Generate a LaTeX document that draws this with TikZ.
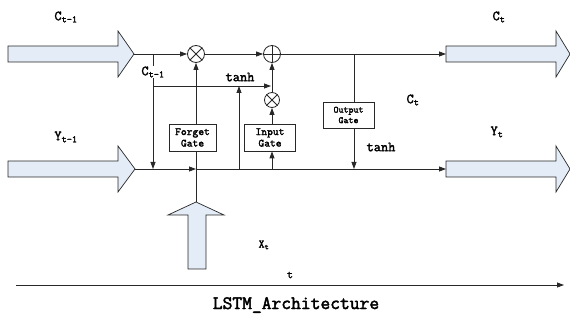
\documentclass[tikz,border=0pt]{standalone}
\usepackage{fontspec}
\newfontfamily\lblfont[FakeBold=2.2]{Latin Modern Mono}
\usetikzlibrary{arrows.meta}
\definecolor{bigfill}{RGB}{228,236,247}
\definecolor{linec}{RGB}{40,40,40}
\begin{document}
\begin{tikzpicture}[x=1pt,y=-1pt,
  conn/.style={draw=linec,line width=0.8pt},
  arr/.style={conn,-{Triangle[length=7pt,width=5pt]}},
  bigarrow/.style={draw=linec,line width=0.7pt,fill=bigfill,line join=miter},
  op/.style={circle,draw=linec,line width=0.8pt,minimum size=17pt,inner sep=0pt},
  gatebox/.style={draw=linec,line width=0.8pt,fill=white,align=center,inner sep=0pt,font=\lblfont\fontsize{11}{11.5}\selectfont},
  lbl/.style={font=\lblfont\fontsize{14}{14}\selectfont,inner sep=0pt},
  slbl/.style={font=\lblfont\fontsize{11.5}{11.5}\selectfont,inner sep=0pt}
]
\useasboundingbox (0,0) rectangle (570,320);

% big arrows
\draw[bigarrow] (8,46) -- (118,46) -- (118,31) -- (134,54) -- (118,77) -- (118,62) -- (8,62) -- cycle;
\coordinate (cin) at (134,54);
\draw[bigarrow] (8,161) -- (118,161) -- (118,146) -- (135,169) -- (118,192) -- (118,177) -- (8,177) -- cycle;
\coordinate (yin) at (135,169);
\draw[bigarrow] (446,46) -- (556,46) -- (556,31) -- (570,54) -- (556,77) -- (556,62) -- (446,62) -- cycle;
\coordinate (cout) at (446,54);
\draw[bigarrow] (446,161) -- (556,161) -- (556,146) -- (570,169) -- (556,192) -- (556,177) -- (446,177) -- cycle;
\coordinate (yout) at (446,169);
\draw[bigarrow] (188,269) -- (188,215) -- (168,215) -- (196,202) -- (224,215) -- (206,215) -- (206,269) -- cycle;
\coordinate (xin) at (196,202);

% operators
\node[op] (m1) at (196,54) {};
\draw[linec,line width=0.8pt] (m1.north west) -- (m1.south east) (m1.north east) -- (m1.south west);
\node[op] (pl) at (272,54) {};
\draw[linec,line width=0.8pt] (pl.north) -- (pl.south) (pl.west) -- (pl.east);
\node[op,minimum size=15pt] (m2) at (272,100) {};
\draw[linec,line width=0.8pt] (m2.north west) -- (m2.south east) (m2.north east) -- (m2.south west);

% junction coordinates
\coordinate (j1) at (153,54);
\coordinate (j1b) at (153,86);
\coordinate (j1y) at (153,169);
\coordinate (th) at (239,86);
\coordinate (thy) at (239,169);
\coordinate (inh) at (271,86);
\coordinate (xy) at (196,169);
\coordinate (igy) at (272,169);
\coordinate (oj) at (354,54);
\coordinate (oy) at (354,169);

% connectors
\draw[conn] (cin) -- (j1);
\draw[arr] (j1) -- (m1.west);
\draw[arr] (m1.east) -- (pl.west);
\draw[arr] (pl.east) -- (cout);
\draw[arr] (j1) -- (j1y);
\draw[arr] (j1b) -- (inh);
\draw[arr] (thy) -- (th);
\draw[arr] (yin) -- (xy);
\draw[arr] (xy) -- (yout);
\draw[arr] (xin) -- (m1.south);

% gates
\node[gatebox,minimum width=47pt,minimum height=27pt] (fg) at (192.5,137.5) {Forget\\Gate};
\node[gatebox,minimum width=51pt,minimum height=27pt] (ig) at (270,137.5) {Input\\Gate};
\node[gatebox,minimum width=51pt,minimum height=26pt,font=\lblfont\fontsize{9.5}{10.5}\selectfont] (og) at (348.5,115) {Output\\Gate};

\draw[arr] (igy) -- (ig.south -| igy);
\draw[arr] (ig.north -| igy) -- (m2.south);
\draw[arr] (m2.north) -- (pl.south);
\draw[conn] (oj) -- (og.north -| oj);
\draw[arr] (og.south -| oj) -- (oy);

% labels
\node[lbl] (lc1) at (66,17) {C\textsubscript{t-1}};
\node[lbl] (ly1) at (66,137) {Y\textsubscript{t-1}};
\node[lbl,fill=white,inner sep=1pt] (lc1b) at (153,72) {C\textsubscript{t-1}};
\node[lbl] (lt1) at (240,77) {tanh};
\node[lbl] (lt2) at (381,147) {tanh};
\node[lbl] (lct) at (413,100) {C\textsubscript{t}};
\node[lbl] (lct2) at (499,17) {C\textsubscript{t}};
\node[lbl] (lyt) at (497,132) {Y\textsubscript{t}};
\node[slbl] (lx) at (264,245) {X\textsubscript{t}};
\node[slbl] (ltt) at (290,275) {t};

% time axis
\coordinate (ta) at (16,285);
\coordinate (tb) at (564,285);
\draw[arr] (ta) -- (tb);
\node[font=\lblfont\fontsize{19}{19}\selectfont,inner sep=0pt] (title) at (296,305) {LSTM\_Architecture};
\end{tikzpicture}
\end{document}
